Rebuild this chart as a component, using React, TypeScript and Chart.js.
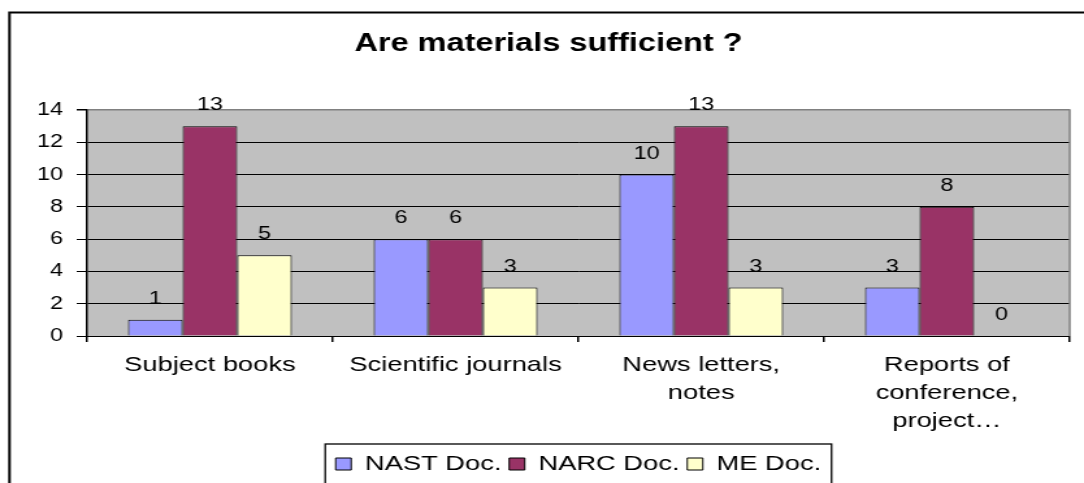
import React, { useEffect, useRef } from 'react';
import { Chart, registerables } from 'chart.js';

Chart.register(...registerables);

// ---- data ----
const categories: string[][] = [
  ['Subject books'],
  ['Scientific journals'],
  ['News letters,', 'notes'],
  ['Reports of', 'conference,', 'project…'],
];
const seriesNames = ['NAST Doc.', 'NARC Doc.', 'ME Doc.'];
const nastDoc = [1, 6, 10, 3];
const narcDoc = [13, 6, 13, 8];
const meDoc = [5, 3, 3, 0];
const yMin = 0;
const yMax = 14;
const yStep = 2;
const titleText = 'Are materials sufficient ?';

// ---- layout (local canvas coords; canvas is stretched horizontally) ----
const LOCAL_W = 834;
const LOCAL_H = 520;
const SX = 1084 / LOCAL_W;
const FONT = "'Liberation Sans', Arial, sans-serif";

const colors = ['#9999FF', '#993366', '#FFFFCC'];

const decorPlugin = {
  id: 'decor',
  beforeDraw(chart: any) {
    const { ctx, chartArea } = chart;
    ctx.save();
    ctx.fillStyle = '#ffffff';
    ctx.fillRect(0, 0, chart.width, chart.height);
    // outer chart border (top and left only are visible)
    ctx.strokeStyle = '#000';
    ctx.lineWidth = 2;
    ctx.beginPath();
    ctx.moveTo(7.3, chart.height + 10);
    ctx.lineTo(7.3, 12.5);
    ctx.lineTo(chart.width + 10, 12.5);
    ctx.stroke();
    // plot area background
    ctx.fillStyle = '#C0C0C0';
    ctx.fillRect(chartArea.left, chartArea.top, chartArea.right - chartArea.left, chartArea.bottom - chartArea.top);
    ctx.restore();
  },
  afterDatasetsDraw(chart: any) {
    const { ctx } = chart;
    ctx.save();
    ctx.font = `18px ${FONT}`;
    ctx.fillStyle = '#000';
    ctx.textAlign = 'center';
    ctx.textBaseline = 'middle';
    chart.data.datasets.forEach((ds: any, i: number) => {
      const meta = chart.getDatasetMeta(i);
      meta.data.forEach((el: any, j: number) => {
        const { x, y } = el.getProps(['x', 'y'], true);
        ctx.fillText(String(ds.data[j]), x, y - 21);
      });
    });
    ctx.restore();
  },
  afterDraw(chart: any) {
    const { ctx, chartArea } = chart;
    ctx.save();
    // right gray border of plot area
    ctx.strokeStyle = '#808080';
    ctx.lineWidth = 1.5;
    ctx.beginPath();
    ctx.moveTo(chartArea.right, chartArea.top - 0.75);
    ctx.lineTo(chartArea.right, chartArea.bottom);
    ctx.stroke();
    // legend border
    const hb = chart.legend && chart.legend.legendHitBoxes;
    if (hb && hb.length) {
      let l = Infinity, r = -Infinity, c = 0;
      hb.forEach((b: any) => {
        l = Math.min(l, b.left);
        r = Math.max(r, b.left + b.width);
        c = b.top + b.height / 2;
      });
      ctx.strokeStyle = '#000';
      ctx.lineWidth = 1.3;
      ctx.strokeRect(l - 8, c - 20, r - l + 16, 200);
    }
    ctx.restore();
  },
};

export default function App() {
  const ref = useRef<HTMLCanvasElement | null>(null);

  useEffect(() => {
    if (!ref.current) return;
    Chart.defaults.font.family = FONT;
    Chart.defaults.color = '#000';
    const data = [nastDoc, narcDoc, meDoc];
    const chart = new Chart(ref.current, {
      type: 'bar',
      data: {
        labels: categories,
        datasets: seriesNames.map((name, i) => ({
          label: name,
          data: data[i],
          backgroundColor: colors[i],
          borderColor: '#000',
          borderWidth: 1,
          categoryPercentage: 3 / 4.5,
          barPercentage: 1,
        })),
      },
      options: {
        responsive: false,
        animation: false,
        devicePixelRatio: 1,
        layout: { padding: { left: 21, right: 11, top: 0, bottom: 35.5 } },
        plugins: {
          title: {
            display: true,
            text: titleText,
            color: '#000',
            font: { size: 25, weight: 'bold', family: FONT },
            padding: { top: 29, bottom: 51 },
          },
          legend: {
            display: true,
            position: 'bottom',
            fullSize: false,
            labels: {
              color: '#000',
              font: { size: 21, family: FONT },
              boxWidth: 12,
              boxHeight: 12,
              padding: 6,
            },
          },
          tooltip: { enabled: false },
        },
        scales: {
          x: {
            offset: true,
            grid: {
              display: true,
              drawOnChartArea: false,
              drawTicks: true,
              tickLength: 6,
              color: '#000',
              lineWidth: 1.5,
              offset: true,
            },
            border: { display: true, color: '#000', width: 1 },
            ticks: {
              color: '#000',
              font: { size: 21, family: FONT, lineHeight: 1.33 },
              padding: 9,
              autoSkip: false,
              maxRotation: 0,
              minRotation: 0,
            },
            afterFit: (scale: any) => {
              scale.height = 111.5;
            },
          },
          y: {
            min: yMin,
            max: yMax,
            ticks: {
              stepSize: yStep,
              color: '#000',
              font: { size: 18, family: FONT },
              padding: 10.5,
            },
            grid: {
              color: (c: any) => (c.tick && c.tick.value === yMax ? '#808080' : '#000'),
              lineWidth: (c: any) => (c.tick && c.tick.value === yMax ? 1.5 : 1),
              tickColor: '#000',
              tickLength: 8,
              drawTicks: true,
            },
            border: { display: true, color: '#000', width: 1.5 },
            afterFit: (scale: any) => {
              scale.width = 46;
            },
          },
        },
      },
      plugins: [decorPlugin],
    } as any);
    return () => chart.destroy();
  }, []);

  return (
    <div
      style={{
        position: 'fixed',
        left: 0,
        top: 0,
        width: 1084,
        height: 483,
        overflow: 'hidden',
        background: '#fff',
      }}
    >
      <div
        style={{
          width: LOCAL_W,
          height: LOCAL_H,
          transform: `scaleX(${SX})`,
          transformOrigin: '0 0',
        }}
      >
        <canvas
          ref={ref}
          width={LOCAL_W}
          height={LOCAL_H}
          style={{ width: LOCAL_W, height: LOCAL_H, display: 'block' }}
        />
      </div>
    </div>
  );
}
